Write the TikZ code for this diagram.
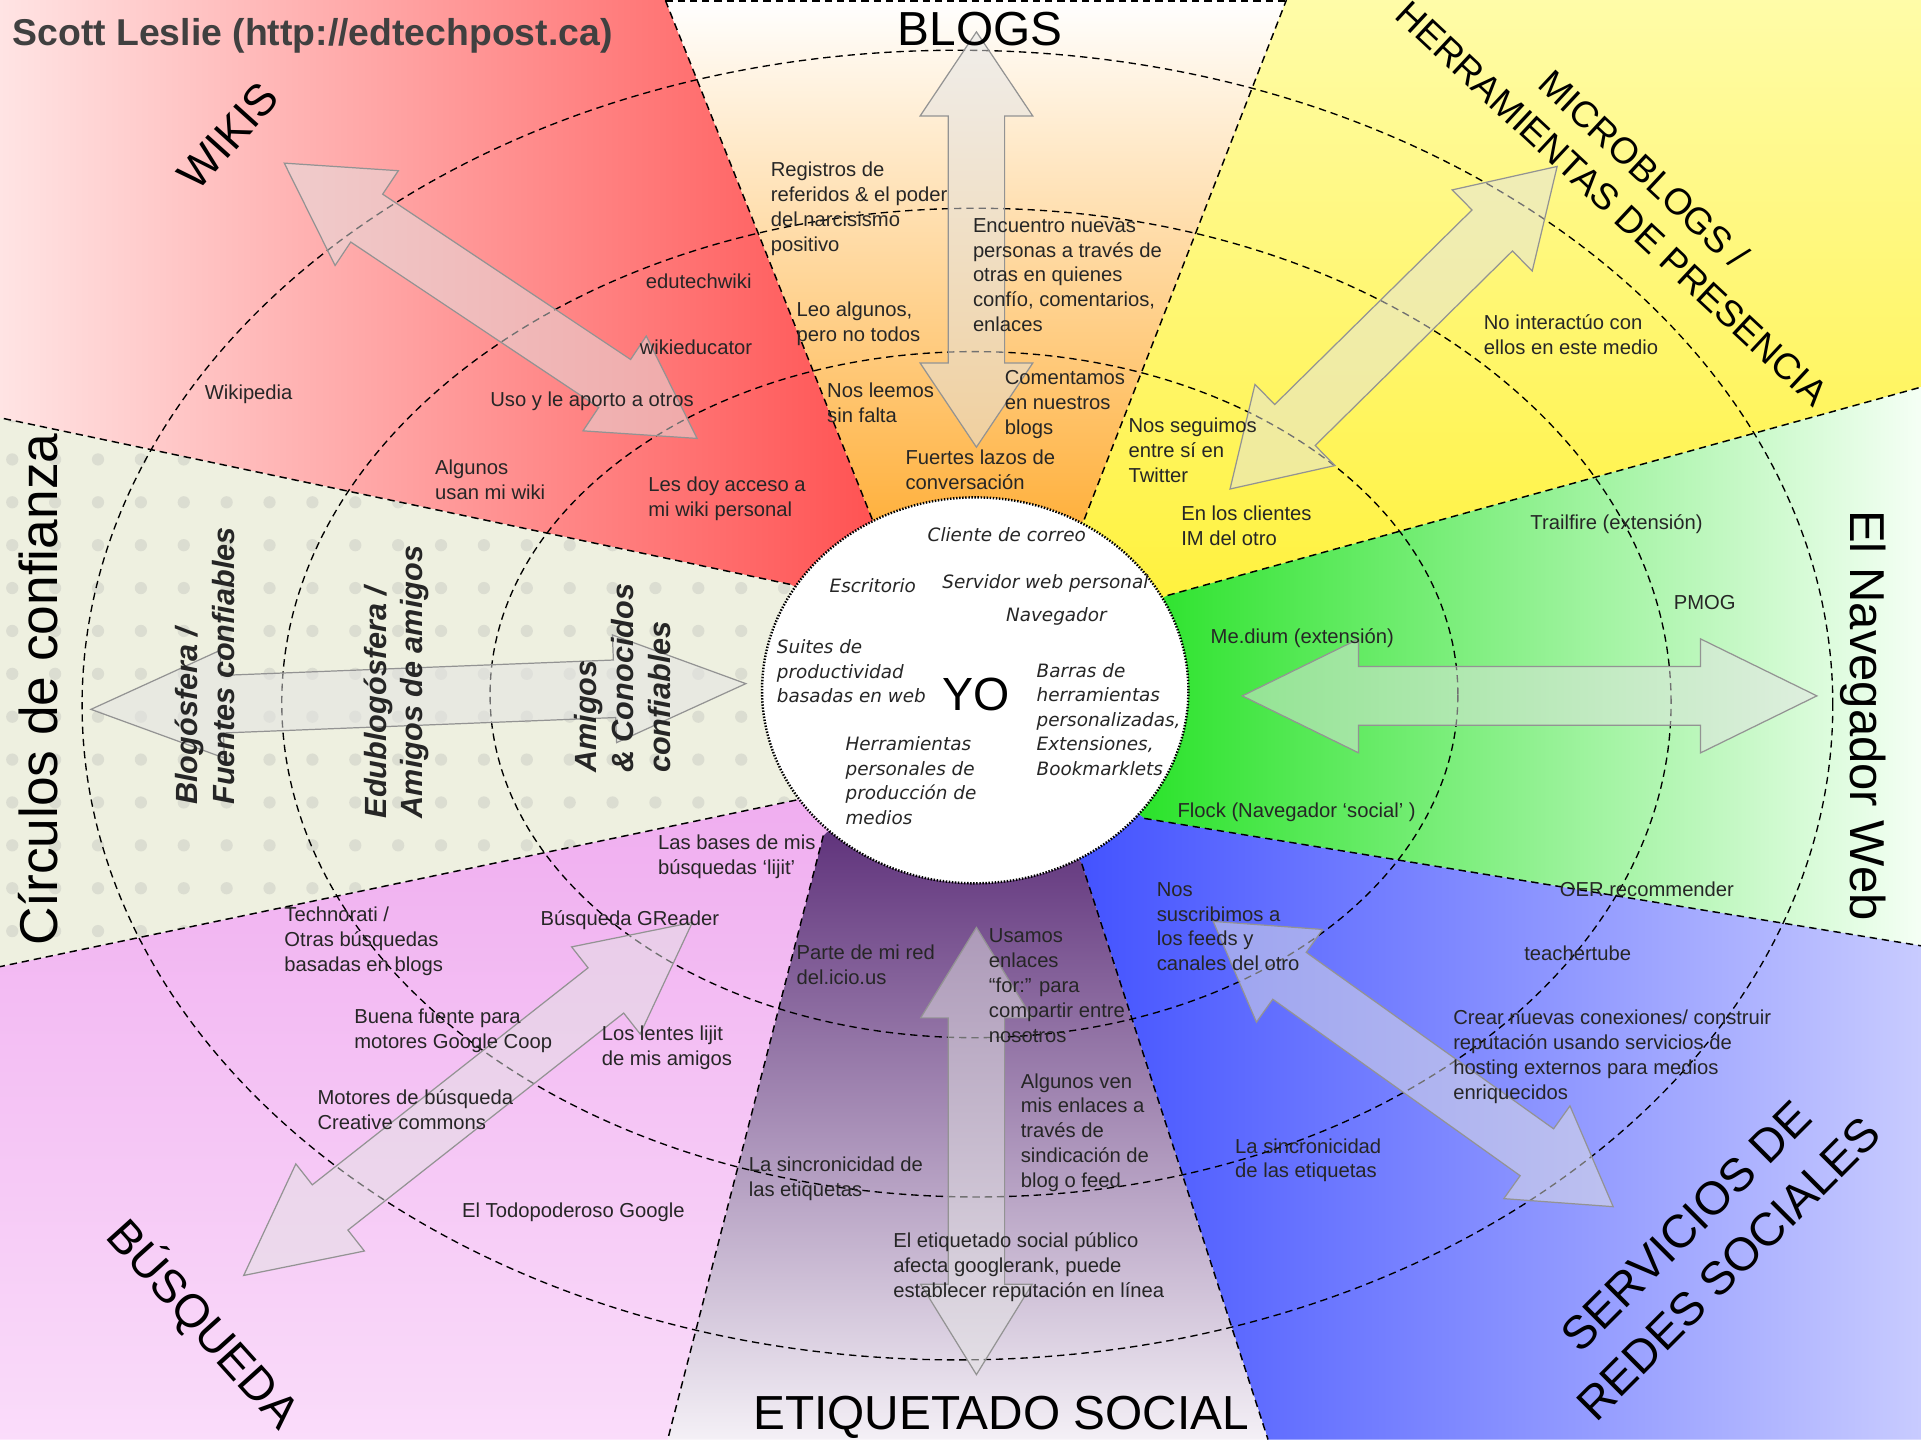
\documentclass[tikz,border=0pt]{standalone}
\usepackage{fontspec}
\setmainfont{Liberation Sans}
\newfontfamily\toolfont{DejaVu Sans Oblique}
\usetikzlibrary{shapes.arrows}

\definecolor{wikiL}{HTML}{FFE4E4}
\definecolor{wikiM}{HTML}{FF9C9C}
\definecolor{wikiR}{HTML}{FF4242}
\definecolor{blogM}{HTML}{FDD8A8}
\definecolor{blogB}{HTML}{FF9800}
\definecolor{microT}{HTML}{FFFCA8}
\definecolor{microB}{HTML}{FFF02E}
\definecolor{navL}{HTML}{00DD00}
\definecolor{navM}{HTML}{8FF08F}
\definecolor{navR}{HTML}{F5FFF5}
\definecolor{redesL}{HTML}{3344FF}
\definecolor{redesR}{HTML}{C8CBFF}
\definecolor{etiqT}{HTML}{3E0860}
\definecolor{etiqM}{HTML}{7E4898}
\definecolor{etiqB}{HTML}{F4F0F6}
\definecolor{busqT}{HTML}{EEA6EE}
\definecolor{busqB}{HTML}{FADCFA}
\definecolor{circBg}{HTML}{EEF0E0}

\begin{document}
\begin{tikzpicture}[x=1pt, y=-1pt,
  sep/.style={dash pattern=on 6pt off 4pt, line width=1.2pt},
  ring/.style={dash pattern=on 6pt off 4pt, line width=1.1pt},
  lbl/.style={anchor=north west, align=left, inner sep=0pt, text=black!85,
    font=\fontsize{16.5}{20.3}\selectfont},
  tool/.style={anchor=north west, align=left, inner sep=0pt, text=black!85,
    font=\toolfont\fontsize{15}{20}\selectfont},
  trust/.style={anchor=west, align=left, inner sep=0pt, rotate=90, text=black!85,
    font=\bfseries\itshape\fontsize{25}{30}\selectfont},
  title/.style={inner sep=0pt, font=\fontsize{39}{47}\selectfont},
  bigarrow/.style={double arrow, draw=gray!85, fill=gray!22, fill opacity=.5,
    line width=1pt, inner sep=23pt, minimum width=0pt, double arrow head extend=23pt}]

  \useasboundingbox (0,0) rectangle (1568,1175);
  \clip (0,0) rectangle (1568,1175);

  % centre and sector borders
  \coordinate (o) at (796,563.5);
  \coordinate (wb) at (712,424);  \coordinate (wbo) at (543,0);
  \coordinate (bm) at (885,424);  \coordinate (bmo) at (1050,0);
  \coordinate (mn) at (953,486);  \coordinate (mno) at (1568,316);
  \coordinate (nr) at (934,668);  \coordinate (nro) at (1568,772);
  \coordinate (re) at (883,705);  \coordinate (reo) at (1035,1175);
  \coordinate (eb) at (672,682);  \coordinate (ebo) at (545,1175);
  \coordinate (bc) at (650,653);  \coordinate (bco) at (0,789);
  \coordinate (cw) at (645,477);  \coordinate (cwo) at (0,341);

  % sectors
  \shade[left color=wikiL, middle color=wikiM, right color=wikiR]
    (0,0) -- (wbo) -- (wb) -- (o) -- (cw) -- (cwo) -- cycle;
  \shade[top color=white, middle color=blogM, bottom color=blogB]
    (wbo) -- (bmo) -- (bm) -- (o) -- (wb) -- cycle;
  \shade[top color=microT, bottom color=microB]
    (bmo) -- (1568,0) -- (mno) -- (mn) -- (o) -- (bm) -- cycle;
  \shade[left color=navL, middle color=navM, right color=navR]
    (mno) -- (nro) -- (nr) -- (o) -- (mn) -- cycle;
  \shade[left color=redesL, right color=redesR]
    (nro) -- (1568,1175) -- (reo) -- (re) -- (o) -- (nr) -- cycle;
  \shade[top color=etiqT, middle color=etiqM, bottom color=etiqB]
    (reo) -- (ebo) -- (eb) -- (o) -- (re) -- cycle;
  \shade[top color=busqT, bottom color=busqB]
    (ebo) -- (0,1175) -- (bco) -- (bc) -- (o) -- (eb) -- cycle;
  \fill[circBg] (bco) -- (cwo) -- (cw) -- (o) -- (bc) -- cycle;
  \begin{scope}
    \clip (bco) -- (cwo) -- (cw) -- (o) -- (bc) -- cycle;
    \foreach \x in {10,45,...,640}
      \foreach \y in {340,375,...,800}
        \fill[black!35, opacity=.25] (\x,\y) circle [radius=5pt];
  \end{scope}

  % circles of trust
  \draw[ring] (795,567) ellipse [x radius=395pt, y radius=280pt];
  \draw[ring] (797,573.5) ellipse [x radius=567pt, y radius=403.5pt];
  \draw[ring] (781.5,575.5) ellipse [x radius=714.5pt, y radius=534.5pt];

  \draw[sep] (wb) -- (wbo);
  \draw[sep] (bm) -- (bmo);
  \draw[sep] (mn) -- (mno);
  \draw[sep] (nr) -- (nro);
  \draw[sep] (re) -- (reo);
  \draw[sep] (eb) -- (ebo);
  \draw[sep] (bc) -- (bco);
  \draw[sep] (cw) -- (cwo);
  \draw[sep] (543,1) -- (1050,1);

  % big arrows
  \node[bigarrow, minimum height=339pt, inner sep=22.5pt, double arrow tip angle=67.6, rotate=90] (aBlogs) at (797,195.5) {};
  \node[bigarrow, minimum height=365pt, inner sep=22.5pt, double arrow head extend=22.5pt, double arrow tip angle=63.3, rotate=90] (aEtiq) at (797,939.5) {};
  \node[bigarrow, minimum height=469pt, inner sep=23.5pt, double arrow head extend=22.5pt, double arrow tip angle=52.2] (aNav) at (1248.5,568) {};
  \node[bigarrow, minimum height=535pt, double arrow head extend=20.5pt, double arrow tip angle=44.6, rotate=2.25] (aCirc) at (341.5,568.5) {};
  \node[bigarrow, minimum height=405pt, double arrow tip angle=59.8, rotate=-33.7] (aWikis) at (400.5,245.5) {};
  \node[bigarrow, minimum height=375pt, double arrow tip angle=64, rotate=44.6] (aMicro) at (1137.5,267.5) {};
  \node[bigarrow, minimum height=401pt, double arrow tip angle=62.6, rotate=-35.5] (aRedes) at (1153.5,868.5) {};
  \node[bigarrow, minimum height=466pt, double arrow head extend=21.75pt, double arrow tip angle=53.5, rotate=38.2] (aBusq) at (382,897) {};

  % me
  \draw[fill=white, line width=2pt, dash pattern=on 1.2pt off 1.3pt] (o) ellipse [x radius=174pt, y radius=157.5pt];
  \node[anchor=base, inner sep=0pt, font=\fontsize{38}{44}\selectfont] (yo) at (796.5,580) {YO};
  \node[tool] (t1) at (757,430) {Cliente de correo};
  \node[tool] (t2) at (677,472) {Escritorio};
  \node[tool] (t3) at (769,469) {Servidor web personal};
  \node[tool] (t4) at (821,496) {Navegador};
  \node[tool] (t5) at (634,522) {Suites de\\productividad\\basadas en web};
  \node[tool] (t6) at (846,541) {Barras de\\herramientas\\personalizadas,\\Extensiones,\\Bookmarklets};
  \node[tool] (t7) at (690,601) {Herramientas\\personales de\\producción de\\medios};

  % titles
  \node[anchor=base west, inner sep=0pt, text=black!75, font=\bfseries\fontsize{30.5}{36}\selectfont] (author) at (10,37) {Scott Leslie (http://edtechpost.ca)};
  \node[title, anchor=base] (tBlogs) at (800,37) {BLOGS};
  \node[title, anchor=base] (tEtiq) at (817,1167) {ETIQUETADO SOCIAL};
  \node[title, rotate=-90, font=\fontsize{40}{48}\selectfont] (tNav) at (1521,584) {El Navegador Web};
  \node[title, rotate=90, font=\fontsize{43.5}{50}\selectfont] (tCirc) at (31,563) {Círculos de confianza};
  \node[title, rotate=48, font=\fontsize{36}{43}\selectfont] (tWikis) at (186.5,111) {WIKIS};
  \node[title, rotate=-43, align=center, font=\fontsize{30}{38}\selectfont] (tMicro) at (1329,152) {MICROBLOGS /\\HERRAMIENTAS DE PRESENCIA};
  \node[title, rotate=-48, font=\fontsize{38}{45}\selectfont] (tBusq) at (166,1081) {BÚSQUEDA};
  \node[title, rotate=45, align=center, font=\fontsize{38}{49}\selectfont] (tRedes) at (1393.5,1018) {SERVICIOS DE\\REDES SOCIALES};

  % trust rings
  \node[trust] (ring1) at (167.5,657) {Blogósfera /\\Fuentes confiables};
  \node[trust] (ring2) at (323.5,668) {Edublogósfera /\\Amigos de amigos};
  \node[trust] (ring3) at (508,631) {Amigos\\\& Conocidos\\confiables};

  % wikis
  \node[lbl] (w1) at (527,223) {edutechwiki};
  \node[lbl] (w2) at (522,277) {wikieducator};
  \node[lbl] (w3) at (167,314) {Wikipedia};
  \node[lbl] (w4) at (400,320) {Uso y le aporto a otros};
  \node[lbl] (w5) at (355,375) {Algunos\\usan mi wiki};
  \node[lbl] (w6) at (529,389) {Les doy acceso a\\mi wiki personal};

  % blogs
  \node[lbl] (b1) at (629,132) {Registros de\\referidos \& el poder\\del narcisismo\\positivo};
  \node[lbl] (b2) at (794,178) {Encuentro nuevas\\personas a través de\\otras en quienes\\confío, comentarios,\\enlaces};
  \node[lbl] (b3) at (650,246) {Leo algunos,\\pero no todos};
  \node[lbl] (b4) at (675,312) {Nos leemos\\sin falta};
  \node[lbl] (b5) at (820,302) {Comentamos\\en nuestros\\blogs};
  \node[lbl] (b6) at (739,367) {Fuertes lazos de\\conversación};

  % microblogs
  \node[lbl] (m1) at (1211,257) {No interactúo con\\ellos en este medio};
  \node[lbl] (m2) at (921,341) {Nos seguimos\\entre sí en\\Twitter};
  \node[lbl] (m3) at (964,413) {En los clientes\\IM del otro};

  % browser
  \node[lbl] (n1) at (1249,420) {Trailfire (extensión)};
  \node[lbl] (n2) at (1366,486) {PMOG};
  \node[lbl] (n3) at (988,513) {Me.dium (extensión)};
  \node[lbl] (n4) at (961,655) {Flock (Navegador ‘social’ )};
  \node[lbl] (n5) at (1273,720) {OER recommender};

  % social networks
  \node[lbl] (r1) at (944,720) {Nos\\suscribimos a\\los feeds y\\canales del otro};
  \node[lbl] (r2) at (1244,772) {teachertube};
  \node[lbl] (r3) at (1186,824) {Crear nuevas conexiones/ construir\\reputación usando servicios de\\hosting externos para medios\\enriquecidos};
  \node[lbl] (r4) at (1008,929) {La sincronicidad\\de las etiquetas};

  % social tagging
  \node[lbl] (e1) at (807,758) {Usamos\\enlaces\\“for:” para\\compartir entre\\nosotros};
  \node[lbl] (e2) at (650,771) {Parte de mi red\\del.icio.us};
  \node[lbl] (e3) at (833,876) {Algunos ven\\mis enlaces a\\través de\\sindicación de\\blog o feed};
  \node[lbl] (e4) at (611,944) {La sincronicidad de\\las etiquetas};
  \node[lbl] (e5) at (729,1006) {El etiquetado social público\\afecta googlerank, puede\\establecer reputación en línea};

  % search
  \node[lbl] (s1) at (537,681) {Las bases de mis\\búsquedas ‘lijit’};
  \node[lbl] (s2) at (232,740) {Technorati /\\Otras búsquedas\\basadas en blogs};
  \node[lbl] (s3) at (441,743) {Búsqueda GReader};
  \node[lbl] (s4) at (289,823) {Buena fuente para\\motores Google Coop};
  \node[lbl] (s5) at (491,837) {Los lentes lijit\\de mis amigos};
  \node[lbl] (s6) at (259,889) {Motores de búsqueda\\Creative commons};
  \node[lbl] (s7) at (377,982) {El Todopoderoso Google};
\end{tikzpicture}
\end{document}
